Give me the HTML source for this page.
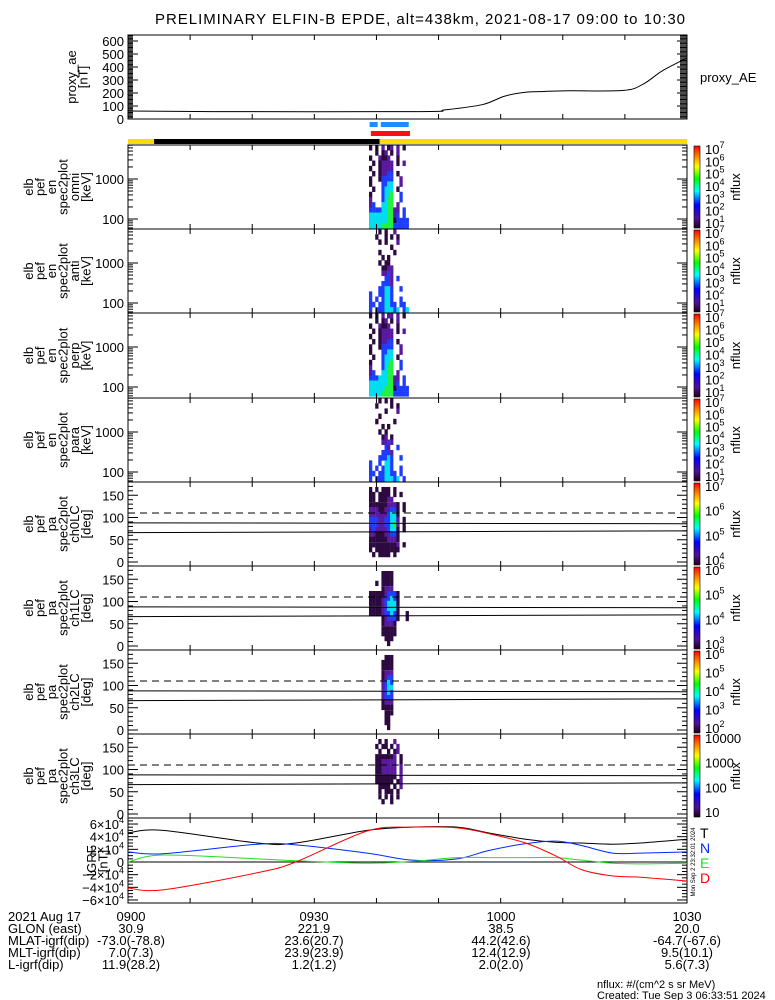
<!DOCTYPE html>
<html><head><meta charset="utf-8"><style>
html,body{margin:0;padding:0;background:#fff}
svg{display:block;font-family:"Liberation Sans",sans-serif}
</style></head><body>
<svg id="c" width="775" height="1000" viewBox="0 0 775 1000">
<text x="420" y="24" font-size="15" text-anchor="middle" textLength="530">PRELIMINARY ELFIN-B EPDE, alt=438km, 2021-08-17 09:00 to 10:30</text>
</svg>
<script>
// ---- data ----
const aeTimes=[0,13.6,47,51,57,60.6,63.8,67,71,79.8,83,86,90];
const aeValues=[62,57,57,70,110,175,205,212,217,220,270,370,470];
const aeTicks=[0,100,200,300,400,500,600];
const igrfTimes=[0,5.6,20.8,27,38.5,45.7,53,58,64,69,73,78,82.5,90];
const igrfT=[4.6,5.0,3.0,3.0,5.0,5.5,5.5,4.6,3.6,3.1,3.0,2.8,3.0,3.6];
const igrfN=[1.6,1.3,2.8,2.7,1.4,0.3,0.5,1.8,2.9,3.3,2.6,1.4,1.4,1.6];
const igrfE=[0,1.1,0.5,0.2,-0.2,0.1,0.7,0.7,0.7,0.7,0.3,-0.2,-0.3,-0.2];
const igrfD=[-4.1,-4.4,-1.7,0,4.9,5.5,5.4,4.5,3.0,0.9,-1.2,-2.2,-2.4,-3.0];
const igrfTicks=[-6,-4,-2,0,2,4,6];
const specTimes=[38.8,39.3,39.8,40.3,40.8,41.3,41.7,42.2,42.7,43.2,43.7,44.2,44.7];
const energyBins=[6100,4520,3350,2490,1840,1370,1010,750,560,413,306,227,168,125,92,68];
const paBins=[174,163,152,141,129,118,107,96,84,73,62,51,39,28,17,6];
const omni=["1.1.2.12.2.1.","..1.12.1.2...","1..2112..1...",".1.12222.1.2.","1..12222.....",".1.12233.1...","1..13333..2..","1...3344..2..",".1..3444.1...","1...3445..3..","2...3455..3..","23..4455.2...","3333445522.3.","4444445523.3.","4444445513333","4444555533333"];
const anti=["...1.1..2....","..1..1.1.1...","...1.1...2...",".......1.....","...1....1....","....1.1......","...1.11......","....1122.....","....2232.....",".....332.3...","....3332.....","...33443..3..","3..33443.....","3.3.3443..3..","33.334433.33.","3.33344434.34"];
const perp=["1.1.2.22.2.1.","..1.12.1.2...","1..2112..1...",".1.12222.1.2.","1..12222.....",".1.12233.1...","1..13333..2..","1...3344..2..",".1..3444.1...","1...3445..3..","2...3455..3..","23..4455.2...","3334445522.3.","4444445523.3.","4444455513333","4444555533333"];
const para=["...1.1.1.....","..1....1.1...",".....1...2...","...1.........","..1.....1....","....1.1......","...1.1.......","....12.1.....","....2232.....",".....32..3...","....3332.....","...33343..3..","3..3.443.....","3.3.3443..3..","33.334433.3..","3.33344434.3."];
const ch0=[".............","1.1.111.1....","11.1111.1.1..","11.11122.....","1111112221.1.","2221122331.1.","2222223441...","3332233442.1.","3332233452.1.","2322223441.1.","2211122331...","1111112221...","1111111112.1.","1.11111111...",".1.1111.1....","............."];
const ch1=[".............","....1111.....","....1111.....","..1.1111.....","....1222.....","1111123331...","1111233431...","1111234441...","1111234441...","1111233431..1","....123331..1","....12221....","....11111....","....11111....",".....111.....","......1......"];
const ch2=[".............",".....111.....","....1111.....","....1111.....","....1222.....","....1233.....","....2343.....","....2344.....","....2343.....","....2333.....","....1222.....","....1111.....",".....111.....",".....11......",".....11......","......1......"];
const ch3=[".............","...1.1..2....","..1.11.1.2...","...1..1.12...","..1111112.1..","..1122222.1..","..1122222.2..","..1122222.2..","..1111111.2..","..111111.12..","...1111.1.2..","...1.111.1...","...1.1.1.1...","....1..1.....",".............","............."];
const bottomRows=["2021 Aug 17","GLON (east)","MLAT-igrf(dip)","MLT-igrf(dip)","L-igrf(dip)"];
const bottomTimes=["0900","0930","1000","1030"];
const glon=["30.9","221.9","38.5","20.0"];
const mlat=["-73.0(-78.8)","23.6(20.7)","44.2(42.6)","-64.7(-67.6)"];
const mlt=["7.0(7.3)","23.9(23.9)","12.4(12.9)","9.5(10.1)"];
const lshell=["11.9(28.2)","1.2(1.2)","2.0(2.0)","5.6(7.3)"];

// ---- helpers ----
const NS="http://www.w3.org/2000/svg";
const svg=document.getElementById('c');
function mk(tag,attrs,parent){const e=document.createElementNS(NS,tag);for(const k in attrs)e.setAttribute(k,attrs[k]);(parent||svg).appendChild(e);return e;}
const X0=128,X1=687;
const xT=m=>X0+(X1-X0)*m/90;
const colDur=0.48;
const palette={'1':'#2c0a40','2':'#5a1aa0','3':'#1e3cff','4':'#00dcf0','5':'#20f040','6':'#f0e000','7':'#f01010'};
function smoothPath(pts){
  let d='M'+pts[0][0]+','+pts[0][1];
  for(let i=0;i<pts.length-1;i++){
    const p0=pts[Math.max(0,i-1)],p1=pts[i],p2=pts[i+1],p3=pts[Math.min(pts.length-1,i+2)];
    const c1=[p1[0]+(p2[0]-p0[0])/6,p1[1]+(p2[1]-p0[1])/6];
    const c2=[p2[0]-(p3[0]-p1[0])/6,p2[1]-(p3[1]-p1[1])/6];
    d+='C'+c1[0]+','+c1[1]+' '+c2[0]+','+c2[1]+' '+p2[0]+','+p2[1];
  }
  return d;
}

const defs=mk('defs',{});
const g=mk('linearGradient',{id:'cb',x1:0,y1:1,x2:0,y2:0},defs);
[['0','#200018'],['0.12','#50109a'],['0.28','#0000ff'],['0.45','#00ffff'],['0.6','#00ff00'],['0.75','#ffff00'],['0.88','#ff8000'],['1','#ff0000']].forEach(s=>mk('stop',{offset:s[0],'stop-color':s[1]},g));

function frame(top,h,name){
  const r=mk('rect',{x:X0,y:top,width:X1-X0,height:h,fill:'none',stroke:'#000','stroke-width':1});
  
  
  for(let m=10;m<90;m+=10){
    mk('line',{x1:xT(m),x2:xT(m),y1:top,y2:top+5,stroke:'#000'});
    mk('line',{x1:xT(m),x2:xT(m),y1:top+h,y2:top+h-5,stroke:'#000'});
  }
}
function leftLabel(lines,cy,x0,name){
  const gr=mk('g',{});
  
  
  lines.forEach((l,i)=>{const x=x0+i*11.5;const t=mk('text',{x:x,y:cy,'font-size':13,'text-anchor':'middle',transform:`rotate(-90 ${x} ${cy})`},gr);t.textContent=l;});
}
function colorbar(top,h,labels,name){
  const r=mk('rect',{x:694,y:top+1,width:6,height:h-2,fill:'url(#cb)',stroke:'#000','stroke-width':0.6});
  
  
  const n=labels.length;
  labels.forEach((lb,i)=>{
    const y=top+h-6-(h-10)*i/(n-1);
    const t=mk('text',{x:705,y:y+5,'font-size':13});
    if(lb.length===1){t.textContent='10';const s=mk('tspan',{dy:-6,'font-size':9},t);s.textContent=lb;}
    else t.textContent=lb;
  });
  const cy=top+h/2;
  const t=mk('text',{x:740,y:cy,'font-size':13,'text-anchor':'middle',transform:`rotate(-90 740 ${cy})`});
  t.textContent='nflux';
}
function grid(data,top,yOfBin,name){
  const gr=mk('g',{});
  
  
  data.forEach((row,ri)=>{
    const [ya,yb]=yOfBin(ri);
    for(let ci=0;ci<specTimes.length;ci++){
      const c=row[ci];
      if(!c||c==='.')continue;
      const xa=xT(specTimes[ci]),xb=xT(specTimes[ci]+colDur);
      const r=mk('rect',{x:xa,y:ya,width:xb-xa+0.3,height:yb-ya+0.3,fill:palette[c]},gr);
      
      
    }
  });
}

// ---- AE panel ----
const aeTop=35,aeH=84;
const yAE=v=>119-v*0.13;
frame(aeTop,aeH,'proxy-ae');
aeTicks.forEach(v=>{
  const y=yAE(v);
  mk('line',{x1:X0,x2:X0+10,y1:y,y2:y,stroke:'#000'});
  mk('line',{x1:X1,x2:X1-10,y1:y,y2:y,stroke:'#000'});
  const t=mk('text',{x:124,y:y+5,'font-size':13,'text-anchor':'end'});t.textContent=v;
});
for(let v=-10;v<=650;v+=10){const y=yAE(v);if(y<aeTop||y>aeTop+aeH)continue;
  mk('line',{x1:X0,x2:X0+5,y1:y,y2:y,stroke:'#000'});mk('line',{x1:X1,x2:X1-7,y1:y,y2:y,stroke:'#000'});}
{
  const pts=aeTimes.map((m,i)=>[xT(m),yAE(aeValues[i])]);
  const p=mk('path',{d:smoothPath(pts),fill:'none',stroke:'#000','stroke-width':1});
  
  
}
leftLabel(['proxy_ae','[nT]'],77,76,'proxy-ae-axis-title');
{const t=mk('text',{x:700,y:82,'font-size':13});t.textContent='proxy_AE';
}

// ---- status bars ----
function bar(t0,t1,y,h,fill,name){const r=mk('rect',{x:xT(t0),y:y,width:xT(t1)-xT(t0),height:h,fill:fill});
  }
bar(38.9,40.2,122,5,'#1e8cff','science-zone-bar-1');
bar(40.7,45.2,122,5,'#1e8cff','science-zone-bar-2');
bar(39.1,45.4,131,5,'#ff1010','epd-data-bar');
bar(0,90,139,5,'#f8dc00','sunlight-bar');
bar(4.2,40.5,139,5,'#000','shadow-bar');

// ---- energy panels ----
const eNames=[['omni','omni'],['anti','anti'],['perp','perp'],['para','para']];
const eData=[omni,anti,perp,para];
const eTops=[145,229,313,398];
const ebLabels=['1','2','3','4','5','6','7'];
eTops.forEach((top,pi)=>{
  const h=(pi===3?84:eTops[pi+1]-top);
  const yE=E=>top+34+(3-Math.log10(E))*40;
  grid(eData[pi],top,ri=>[yE(energyBins[ri]*Math.pow(10,0.065)),yE(energyBins[ri]/Math.pow(10,0.065))],'energy-'+eNames[pi][0]);
  frame(top,h,'energy-'+eNames[pi][0]);
  for(let dec=1;dec<=3;dec++)for(let k=1;k<=9;k++){const E=k*Math.pow(10,dec);const y=yE(E);if(y<top||y>top+h)continue;
    const L=k===1?10:5;mk('line',{x1:X0,x2:X0+L,y1:y,y2:y,stroke:'#000'});mk('line',{x1:X1,x2:X1-L,y1:y,y2:y,stroke:'#000'});}
  [100,1000].forEach(E=>{const t=mk('text',{x:124,y:yE(E)+5,'font-size':13,'text-anchor':'end'});t.textContent=E;});
  leftLabel(['elb','pef','en','spec2plot',eNames[pi][1],'[keV]'],top+h/2,33,'energy-'+eNames[pi][0]+'-axis-title');
  colorbar(top,h,ebLabels,'energy-'+eNames[pi][0]);
});

// ---- pitch-angle panels ----
const paData=[ch0,ch1,ch2,ch3];
const paNames=['ch0LC','ch1LC','ch2LC','ch3LC'];
const paTops=[482,566,650,734];
const paCb=[['4','5','6','7'],['3','4','5','6'],['2','3','4','5','6'],['10','100','1000','10000']];
paTops.forEach((top,pi)=>{
  const h=84;
  const yP=a=>top+80-a*0.445;
  grid(paData[pi],top,ri=>[yP(paBins[ri]+5.6),yP(paBins[ri]-5.6)],'pa-'+paNames[pi]);
  frame(top,h,'pa-'+paNames[pi]);
  for(let a=0;a<=180;a+=10){const y=yP(a);const L=a%50===0?10:5;
    mk('line',{x1:X0,x2:X0+L,y1:y,y2:y,stroke:'#000'});mk('line',{x1:X1,x2:X1-L,y1:y,y2:y,stroke:'#000'});}
  [0,50,100,150].forEach(a=>{const t=mk('text',{x:124,y:yP(a)+5,'font-size':13,'text-anchor':'end'});t.textContent=a;});
  const d=mk('line',{x1:X0,x2:X1,y1:yP(110),y2:yP(110),stroke:'#000','stroke-dasharray':'7,5'});
  
  const s1=mk('line',{x1:X0,x2:X1,y1:yP(88),y2:yP(86),stroke:'#000'});
  
  const s2=mk('line',{x1:X0,x2:X1,y1:yP(66),y2:yP(70),stroke:'#000'});
  
  leftLabel(['elb','pef','pa','spec2plot',paNames[pi],'[deg]'],top+h/2,33,'pa-'+paNames[pi]+'-axis-title');
  colorbar(top,h,paCb[pi],'pa-'+paNames[pi]);
});

// ---- IGRF panel ----
const igTop=818,igH=85;
const yI=v=>862-v*6.33;
frame(igTop,igH,'igrf');
mk('line',{x1:X0,x2:X1,y1:yI(0),y2:yI(0),stroke:'#000'});
for(let v=-6.5;v<=6.5;v+=0.5){const y=yI(v);if(y<igTop||y>igTop+igH)continue;const L=Number.isInteger(v/2)?10:5;
  mk('line',{x1:X0,x2:X0+L,y1:y,y2:y,stroke:'#000'});mk('line',{x1:X1,x2:X1-L,y1:y,y2:y,stroke:'#000'});}
igrfTicks.forEach(v=>{const t=mk('text',{x:124,y:yI(v)+5,'font-size':13,'text-anchor':'end'});
  if(v===0){t.textContent='0';return;}
  t.textContent=(v<0?'\u2212':'')+Math.abs(v)+'\u00d710';const s=mk('tspan',{dy:-6,'font-size':9},t);s.textContent='4';});
[[igrfT,'#000','T'],[igrfN,'#0028ff','N'],[igrfE,'#20e020','E'],[igrfD,'#ff0000','D']].forEach((sr,k)=>{
  const pts=igrfTimes.map((m,i)=>[xT(m),yI(sr[0][i])]);
  const p=mk('path',{d:smoothPath(pts),fill:'none',stroke:sr[1],'stroke-width':1});
  
  
  const t=mk('text',{x:700,y:838+k*15,'font-size':14,fill:sr[1]});t.textContent=sr[2];
  
  
});
leftLabel(['IGRF','[nT]'],861,96,'igrf-axis-title');
{const t=mk('text',{x:695,y:862,'font-size':6,'text-anchor':'middle',transform:'rotate(-90 695 862)'});t.textContent='Mon Sep  2 23:32:01 2024';}

// ---- bottom annotation ----
const rowY=[921,933,945,957,969];
const rowVals=[bottomTimes,glon,mlat,mlt,lshell];
const labX=[131,314,501,687];
bottomRows.forEach((lb,i)=>{
  const t=mk('text',{x:8,y:rowY[i],'font-size':13});t.textContent=lb;
  
  rowVals[i].forEach((v,j)=>{const u=mk('text',{x:labX[j],y:rowY[i],'font-size':13,'text-anchor':'middle'});u.textContent=v;});
});
{const t=mk('text',{x:597,y:988,'font-size':11});t.textContent='nflux: #/(cm^2 s sr MeV)';
 
 const u=mk('text',{x:597,y:999,'font-size':11});u.textContent='Created: Tue Sep  3 06:33:51 2024';
 }
</script>
</body></html>
